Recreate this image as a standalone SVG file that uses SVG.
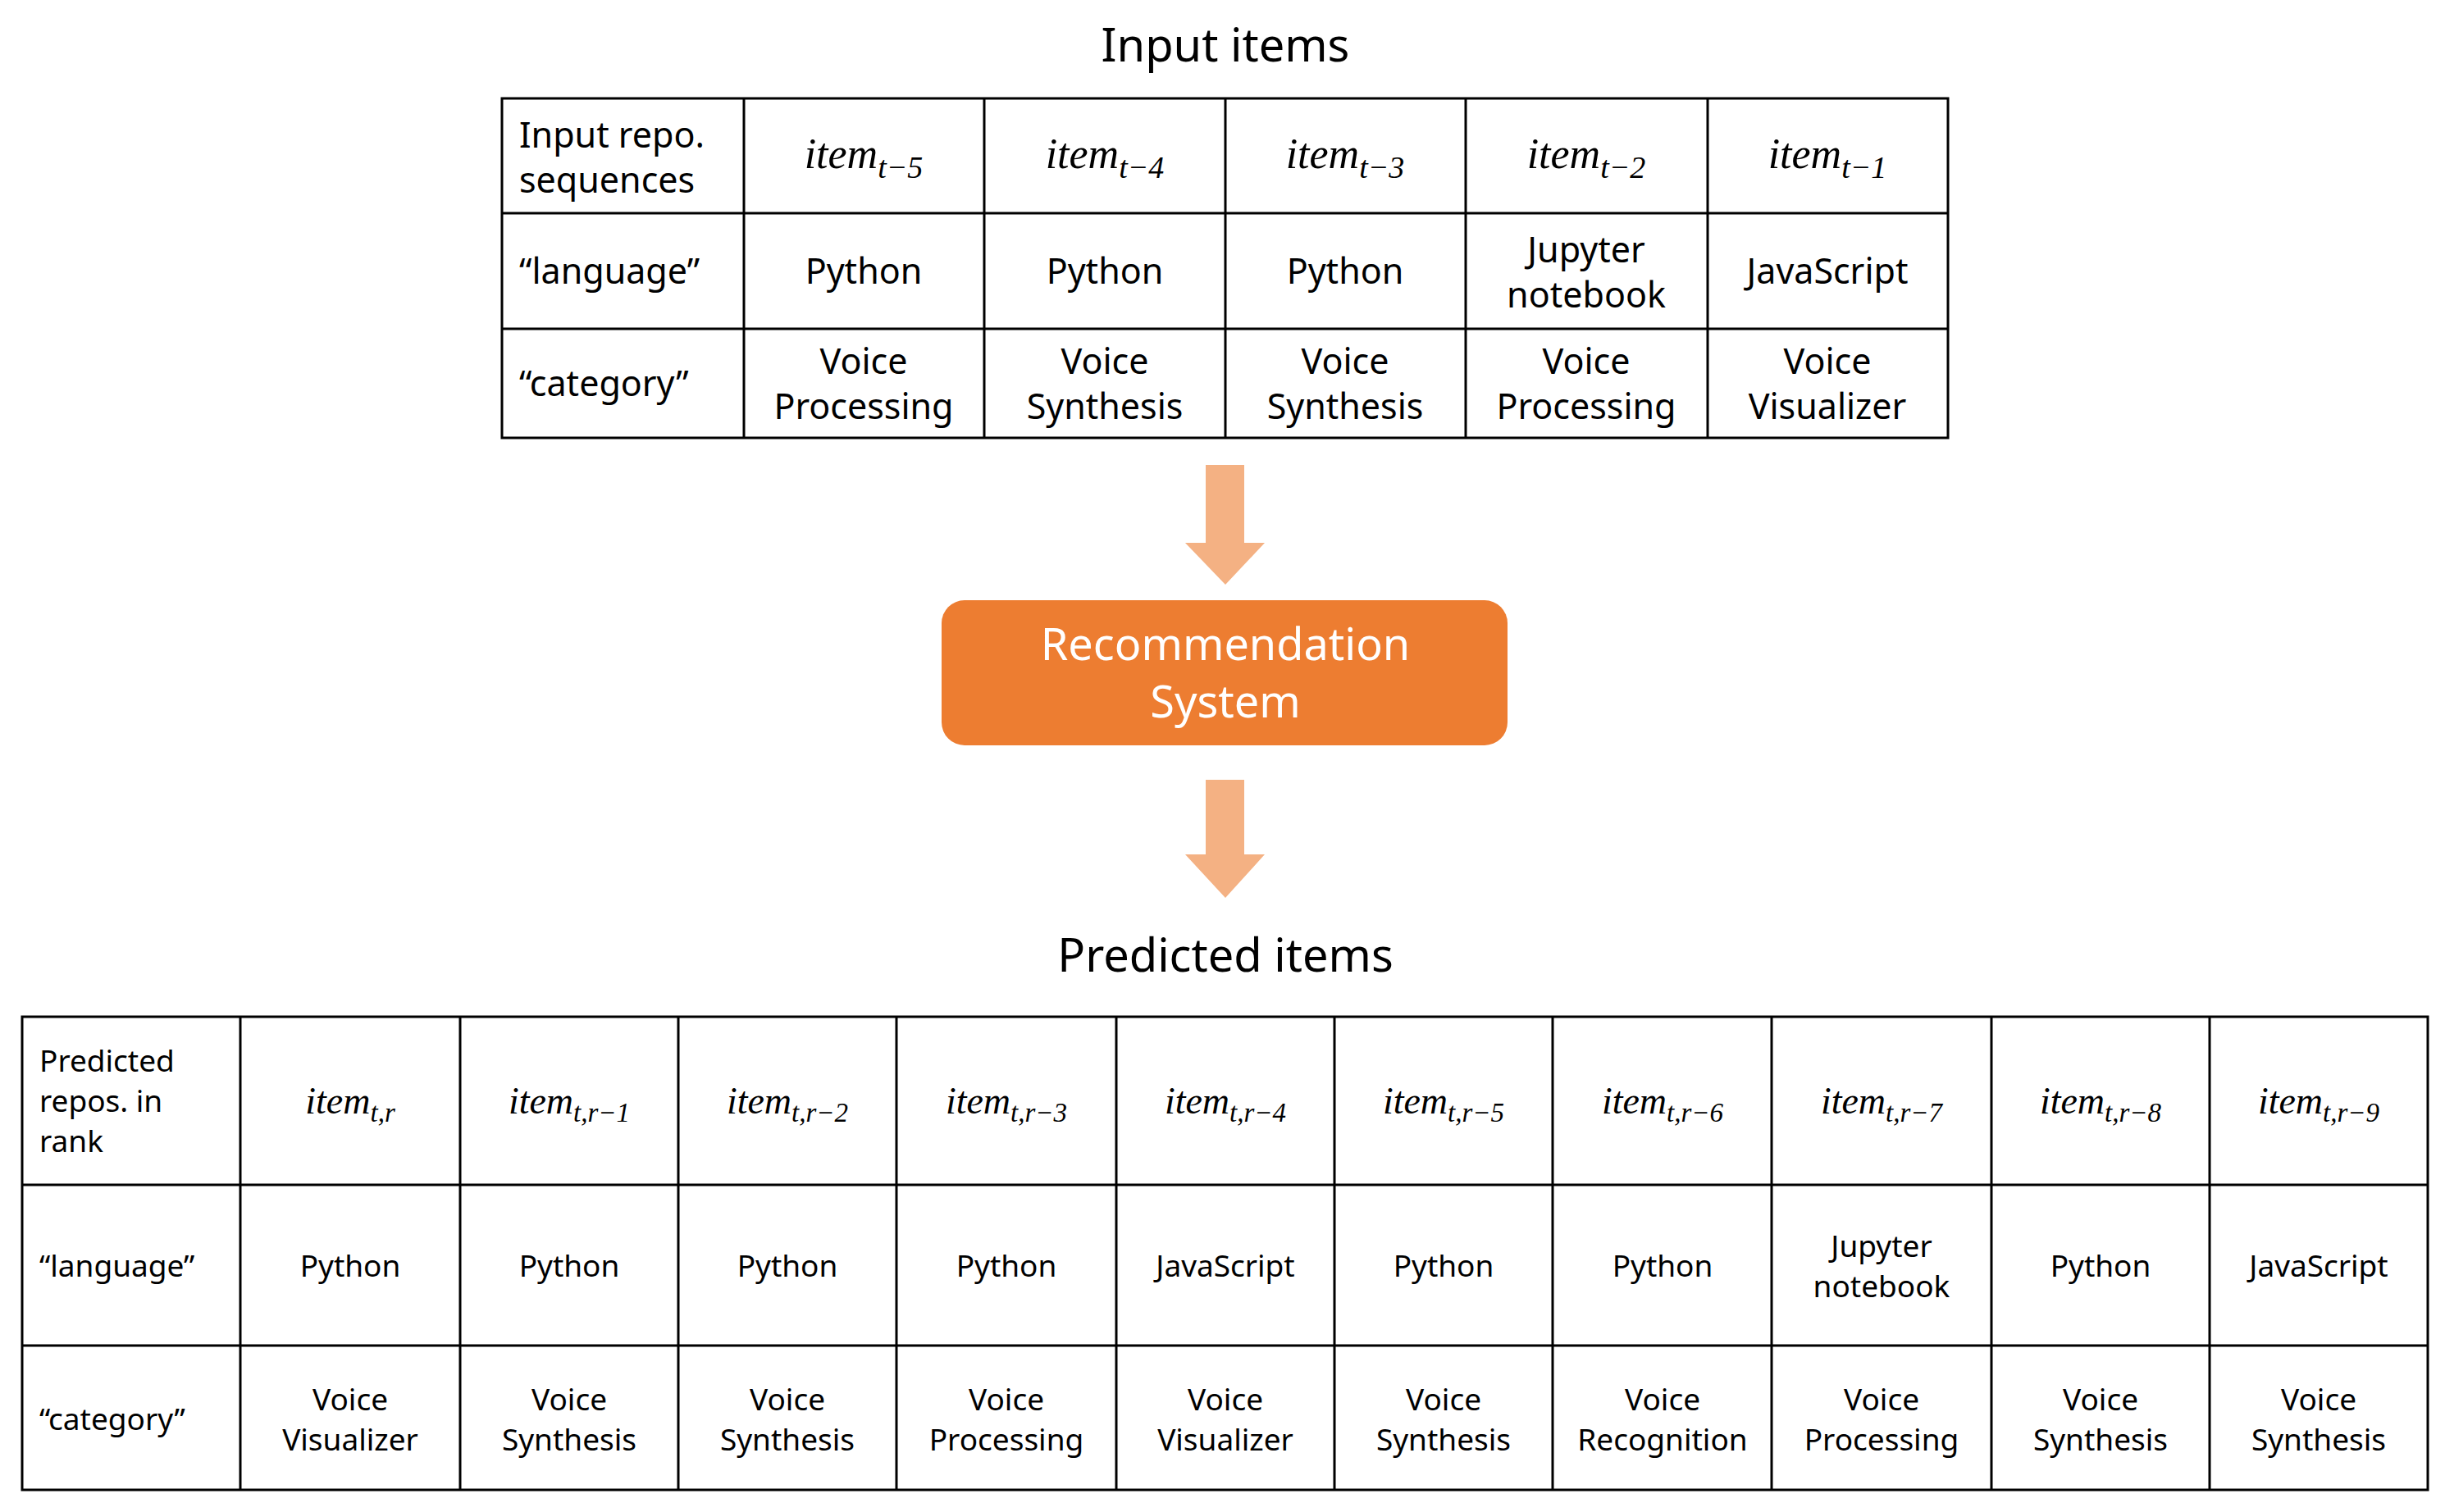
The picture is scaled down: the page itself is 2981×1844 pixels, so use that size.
<svg xmlns="http://www.w3.org/2000/svg" width="2981" height="1844" viewBox="0 0 2981 1844">
<style>
.t{font-family:"Noto Sans","Liberation Sans",sans-serif;fill:#000}
.a{font-size:43px}
.b{font-size:37px}
.m{font-family:"Liberation Serif",serif;font-style:italic}
.ln{stroke:#000;stroke-width:3;fill:none}
.c{text-anchor:middle}
</style>
<rect width="2981" height="1844" fill="#fff"/>
<text class="t c" x="1494" y="75" font-size="56">Input items</text>
<g id="input-table">
<rect class="ln" x="612" y="120" width="1763" height="414"/>
<path class="ln" d="M612 260H2375M612 401H2375M907 120V534M1200 120V534M1494 120V534M1787 120V534M2082 120V534"/>
<g class="t a">
<text x="633" y="180">Input repo.</text><text x="633" y="235">sequences</text>
<text x="633" y="346">“language”</text>
<text x="633" y="483">“category”</text>
</g>
<g class="m c" font-size="52">
<text x="1053" y="205">item<tspan font-size="38" dy="12">t−5</tspan></text>
<text x="1347" y="205">item<tspan font-size="38" dy="12">t−4</tspan></text>
<text x="1640" y="205">item<tspan font-size="38" dy="12">t−3</tspan></text>
<text x="1934" y="205">item<tspan font-size="38" dy="12">t−2</tspan></text>
<text x="2228" y="205">item<tspan font-size="38" dy="12">t−1</tspan></text>
</g>
<g class="t a c">
<text x="1053" y="346">Python</text><text x="1347" y="346">Python</text><text x="1640" y="346">Python</text>
<text x="1934" y="320">Jupyter</text><text x="1934" y="375">notebook</text>
<text x="2228" y="346">JavaScript</text>
<text x="1053" y="456">Voice</text><text x="1053" y="511">Processing</text>
<text x="1347" y="456">Voice</text><text x="1347" y="511">Synthesis</text>
<text x="1640" y="456">Voice</text><text x="1640" y="511">Synthesis</text>
<text x="1934" y="456">Voice</text><text x="1934" y="511">Processing</text>
<text x="2228" y="456">Voice</text><text x="2228" y="511">Visualizer</text>
</g>
</g>
<g id="connectors" fill="#F4B183">
<polygon points="1470,567 1517,567 1517,662 1542,662 1494,713 1445,662 1470,662"/>
<polygon points="1470,951 1517,951 1517,1042 1542,1042 1494,1095 1445,1042 1470,1042"/>
</g>
<g id="recsys">
<rect x="1148" y="732" width="690" height="177" rx="28" fill="#ED7D31"/>
<text class="t c" x="1494" y="805" font-size="54" style="fill:#fff">Recommendation</text>
<text class="t c" x="1494" y="875" font-size="54" style="fill:#fff">System</text>
</g>
<text class="t c" x="1494" y="1185" font-size="56">Predicted items</text>
<g id="predicted-table">
<rect class="ln" x="27" y="1240" width="2933" height="577"/>
<path class="ln" d="M27 1445H2960M27 1641H2960M293 1240V1817M561 1240V1817M827 1240V1817M1093 1240V1817M1361 1240V1817M1627 1240V1817M1893 1240V1817M2160 1240V1817M2428 1240V1817M2694 1240V1817"/>
<g class="t b">
<text x="48" y="1307">Predicted</text><text x="48" y="1356">repos. in</text><text x="48" y="1405">rank</text>
<text x="48" y="1557">“language”</text>
<text x="48" y="1744">“category”</text>
</g>
<g class="m c" font-size="46">
<text x="427" y="1358">item<tspan font-size="33" dy="10">t,r</tspan></text>
<text x="694" y="1358">item<tspan font-size="33" dy="10">t,r−1</tspan></text>
<text x="960" y="1358">item<tspan font-size="33" dy="10">t,r−2</tspan></text>
<text x="1227" y="1358">item<tspan font-size="33" dy="10">t,r−3</tspan></text>
<text x="1494" y="1358">item<tspan font-size="33" dy="10">t,r−4</tspan></text>
<text x="1760" y="1358">item<tspan font-size="33" dy="10">t,r−5</tspan></text>
<text x="2027" y="1358">item<tspan font-size="33" dy="10">t,r−6</tspan></text>
<text x="2294" y="1358">item<tspan font-size="33" dy="10">t,r−7</tspan></text>
<text x="2561" y="1358">item<tspan font-size="33" dy="10">t,r−8</tspan></text>
<text x="2827" y="1358">item<tspan font-size="33" dy="10">t,r−9</tspan></text>
</g>
<g class="t b c">
<text x="427" y="1557">Python</text><text x="694" y="1557">Python</text><text x="960" y="1557">Python</text><text x="1227" y="1557">Python</text>
<text x="1494" y="1557">JavaScript</text><text x="1760" y="1557">Python</text><text x="2027" y="1557">Python</text>
<text x="2294" y="1533">Jupyter</text><text x="2294" y="1582">notebook</text>
<text x="2561" y="1557">Python</text><text x="2827" y="1557">JavaScript</text>
<text x="427" y="1720">Voice</text><text x="427" y="1769">Visualizer</text>
<text x="694" y="1720">Voice</text><text x="694" y="1769">Synthesis</text>
<text x="960" y="1720">Voice</text><text x="960" y="1769">Synthesis</text>
<text x="1227" y="1720">Voice</text><text x="1227" y="1769">Processing</text>
<text x="1494" y="1720">Voice</text><text x="1494" y="1769">Visualizer</text>
<text x="1760" y="1720">Voice</text><text x="1760" y="1769">Synthesis</text>
<text x="2027" y="1720">Voice</text><text x="2027" y="1769">Recognition</text>
<text x="2294" y="1720">Voice</text><text x="2294" y="1769">Processing</text>
<text x="2561" y="1720">Voice</text><text x="2561" y="1769">Synthesis</text>
<text x="2827" y="1720">Voice</text><text x="2827" y="1769">Synthesis</text>
</g>
</g>
</svg>
